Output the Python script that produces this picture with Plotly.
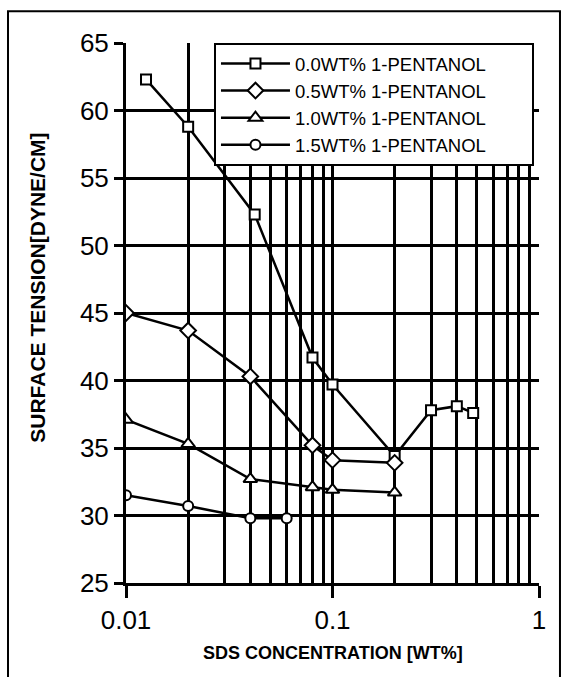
import plotly.graph_objects as go

# ---- data ----
x_00 = [0.0125, 0.02, 0.042, 0.08, 0.1, 0.2, 0.3, 0.4, 0.48]
y_00 = [62.3, 58.8, 52.3, 41.7, 39.7, 34.4, 37.8, 38.1, 37.6]
x_05 = [0.01, 0.02, 0.04, 0.08, 0.1, 0.2]
y_05 = [45.0, 43.7, 40.3, 35.2, 34.1, 33.9]
x_10 = [0.01, 0.02, 0.04, 0.08, 0.1, 0.2]
y_10 = [37.1, 35.3, 32.7, 32.1, 31.9, 31.7]
x_15 = [0.01, 0.02, 0.04, 0.06]
y_15 = [31.5, 30.7, 29.8, 29.8]
names = ["0.0WT% 1-PENTANOL", "0.5WT% 1-PENTANOL", "1.0WT% 1-PENTANOL", "1.5WT% 1-PENTANOL"]
symbols = ["square", "diamond", "triangle-up", "circle"]
sizes = [10, 12, 12, 10]

x_ticks = [0.01, 0.1, 1]
x_ticktext = ["0.01", "0.1", "1"]
x_minor = [d * 10 ** e for e in (-2, -1) for d in range(2, 10)]

FONT = "Liberation Sans, Arial, sans-serif"
PAD = "\u00a0" * 8

fig = go.Figure()
for xs, ys, nm, sym, sz in zip([x_00, x_05, x_10, x_15], [y_00, y_05, y_10, y_15], names, symbols, sizes):
    fig.add_trace(go.Scatter(
        x=xs, y=ys, name=nm + PAD, mode="lines+markers",
        line=dict(color="black", width=2.5),
        marker=dict(symbol=sym, size=sz, color="white", line=dict(color="black", width=2)),
    ))

fig.update_layout(
    width=568, height=677,
    margin=dict(l=126, r=29, t=43, b=94),
    paper_bgcolor="white", plot_bgcolor="white",
    font=dict(family=FONT, color="black"),
    showlegend=True,
    legend=dict(
        x=0.213, y=1.0, xanchor="left", yanchor="top",
        bgcolor="white", bordercolor="black", borderwidth=2,
        font=dict(family=FONT, size=18.5, color="black"),
        tracegroupgap=0, itemwidth=69,
    ),
)

fig.update_xaxes(
    type="log", range=[-2, 0],
    tickmode="array", tickvals=x_ticks, ticktext=x_ticktext,
    ticks="outside", ticklen=12, tickwidth=3, tickcolor="black",
    tickfont=dict(family=FONT, size=26, color="black"),
    showgrid=True, gridcolor="black", gridwidth=3,
    minor=dict(tickvals=x_minor, showgrid=True, gridcolor="black", gridwidth=3, ticks=""),
    showline=True, linecolor="black", linewidth=3,
    zeroline=False,
)
fig.update_yaxes(
    range=[25, 65], dtick=5, tick0=25,
    ticks="outside", ticklen=9, tickwidth=3, tickcolor="black",
    tickfont=dict(family=FONT, size=26, color="black"),
    showgrid=True, gridcolor="black", gridwidth=3,
    showline=True, linecolor="black", linewidth=3,
    zeroline=False,
)

# outer frame
fig.add_shape(type="rect", xref="paper", yref="paper",
              x0=-0.2857, x1=1.0508, y0=-0.25, y1=1.0587,
              line=dict(color="black", width=2), layer="below")

fig.add_annotation(text="<b>SDS CONCENTRATION [WT%]</b>", xref="paper", yref="paper",
                   x=0.5, y=-0.1296, xanchor="center", yanchor="middle", showarrow=False,
                   font=dict(family=FONT, size=18, color="black"))
fig.add_annotation(text="<b>SURFACE TENSION[DYNE/CM]</b>", xref="paper", yref="paper",
                   x=-0.214, y=0.546, xanchor="center", yanchor="middle", showarrow=False,
                   textangle=-90,
                   font=dict(family=FONT, size=21, color="black"))

fig.write_html("out.html")
